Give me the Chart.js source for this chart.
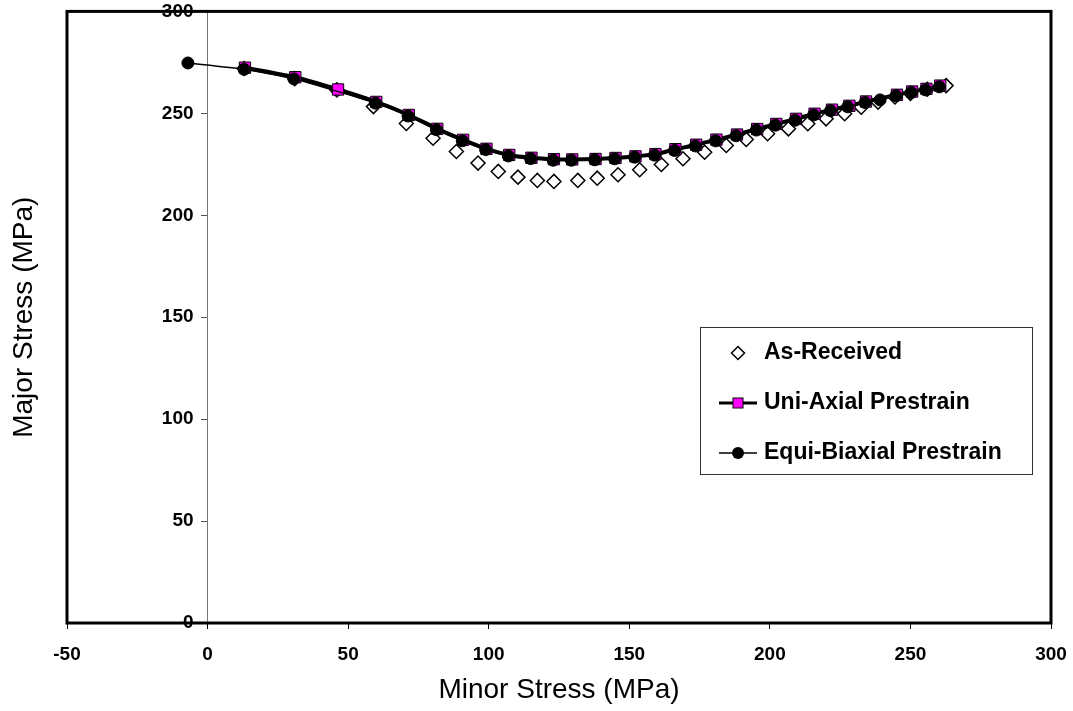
<!DOCTYPE html>
<html>
<head>
<meta charset="utf-8">
<script src="https://cdn.jsdelivr.net/npm/chart.js@4/dist/chart.umd.min.js"></script>
<style>
  html, body { margin: 0; padding: 0; background: #fff; }
  #wrap { width: 1073px; height: 711px; }
</style>
</head>
<body>
<div id="wrap"><canvas id="c" width="1073" height="711"></canvas></div>
<script>
// ---- data ----
const seriesNames = ['As-Received', 'Uni-Axial Prestrain', 'Equi-Biaxial Prestrain'];

const asReceivedX = [13, 31, 46, 59, 70.7, 80.2, 88.5, 96.2, 103.4, 110.4, 117.3, 123.2, 131.7, 138.6, 146, 153.7, 161.4, 169.1, 176.8, 184.5, 191.6, 199.2, 206.6, 213.5, 220, 226.6, 232.5, 238.5, 244.5, 250, 256, 262.7];
const asReceivedY = [272, 267, 261.5, 253.3, 245, 237.8, 231.3, 225.6, 221.5, 218.7, 217.1, 216.6, 217.1, 218.2, 219.9, 222.3, 224.9, 227.7, 230.9, 234.2, 237.2, 240, 242.4, 244.9, 247.3, 249.8, 253, 255.5, 258, 259.8, 261.8, 263.6];

const uniX = [13.3, 31.2, 46.4, 60, 71.6, 81.7, 90.9, 99.2, 107.3, 115.2, 123.2, 129.7, 138, 145.1, 152.2, 159.3, 166.4, 173.8, 181, 188.3, 195.5, 202.3, 209.3, 215.9, 222.1, 228.3, 234.2, 245.2, 250.6, 255.7, 260.6];
const uniY = [272.4, 267.7, 261.7, 255.6, 249.2, 242.4, 237, 232.6, 229.6, 228.2, 227.5, 227.4, 227.6, 228.1, 228.9, 230, 232.4, 234.6, 237.1, 239.6, 242.3, 244.8, 247.3, 249.8, 251.8, 253.7, 255.8, 259.1, 260.7, 262, 263.6];

const equiX = [-7, 13, 30.7, 59.7, 71.3, 81.4, 90.6, 98.9, 107, 114.9, 122.9, 129.4, 137.7, 144.8, 151.9, 159, 166.1, 173.5, 180.7, 188, 195.2, 202, 209, 215.6, 221.6, 227.7, 233.9, 239.2, 244.9, 250.3, 255.4, 260.3];
const equiY = [274.7, 271.6, 266.9, 255, 248.7, 242, 236.5, 232.2, 229.1, 227.8, 227, 227, 227.2, 227.7, 228.5, 229.5, 231.8, 234, 236.5, 239, 241.8, 244.2, 246.6, 249.2, 251.3, 253.2, 255.3, 256.6, 258.6, 260.2, 261.5, 263];

const xTickValues = [-50, 0, 50, 100, 150, 200, 250, 300];
const yTickValues = [0, 50, 100, 150, 200, 250, 300];
const xTitle = 'Minor Stress (MPa)';
const yTitle = 'Major Stress (MPa)';

// ---- helpers ----
const toPts = (xs, ys) => xs.map((x, i) => ({ x: x, y: ys[i] }));
const FONT = '"Liberation Sans", Arial, sans-serif';
const MAGENTA = '#FF00FF';

function makeIcon(kind) {
  const c = document.createElement('canvas');
  c.width = 38; c.height = 16;
  const g = c.getContext('2d');
  const cx = 19, cy = 8;
  if (kind === 'diamond') {
    g.beginPath();
    g.moveTo(cx, cy - 6.5); g.lineTo(cx + 6.5, cy); g.lineTo(cx, cy + 6.5); g.lineTo(cx - 6.5, cy); g.closePath();
    g.fillStyle = '#fff'; g.fill();
    g.lineWidth = 1.5; g.strokeStyle = '#000'; g.stroke();
  } else if (kind === 'square') {
    g.beginPath(); g.moveTo(0, cy); g.lineTo(38, cy);
    g.lineWidth = 3; g.strokeStyle = '#000'; g.stroke();
    g.fillStyle = MAGENTA; g.fillRect(cx - 5, cy - 5, 10, 10);
    g.lineWidth = 1; g.strokeRect(cx - 5, cy - 5, 10, 10);
  } else {
    g.beginPath(); g.moveTo(0, cy); g.lineTo(38, cy);
    g.lineWidth = 1.5; g.strokeStyle = '#000'; g.stroke();
    g.beginPath(); g.arc(cx, cy, 6, 0, Math.PI * 2);
    g.fillStyle = '#000'; g.fill();
  }
  return c;
}
const legendIcons = [makeIcon('diamond'), makeIcon('square'), makeIcon('circle')];

// legend placement (box in the plot)
const LEG_BOX = { left: 700, top: 327, right: 1032, bottom: 474 };
const LEG_PAD = 27;
const LEG_FONT = 23;
const LEG_BOXW = 29;
const Y_LABEL_GAP = 14;
const X_LABEL_DROP = 9;

const framePlugin = {
  id: 'frame',
  afterLayout(chart) {
    const lg = chart.legend;
    if (!lg) return;
    const textStart = LEG_BOX.left + 64;
    const firstCenter = LEG_BOX.top + 26;
    lg.left = textStart - LEG_FONT / 2 - LEG_BOXW - LEG_PAD;
    lg.top = firstCenter - LEG_FONT / 2 - LEG_PAD;
    lg.right = LEG_BOX.right;
    lg.bottom = lg.top + 400;
    lg.width = lg.right - lg.left;
    lg.height = 400;
  },
  beforeDraw(chart) {
    // y tick labels sit left of the tick marks of the axis drawn at x = 0
    const yItems = chart.scales.y.getLabelItems(chart.chartArea);
    if (!yItems._shifted) {
      yItems.forEach(it => { it.options.translation[0] -= Y_LABEL_GAP; });
      yItems._shifted = true;
    }
    const xItems = chart.scales.x.getLabelItems(chart.chartArea);
    if (!xItems._shifted) {
      xItems.forEach(it => { it.options.translation[1] += X_LABEL_DROP; });
      xItems._shifted = true;
    }
  },
  afterDraw(chart) {
    const ctx = chart.ctx;
    const a = chart.chartArea;
    ctx.save();
    ctx.strokeStyle = '#000';
    ctx.lineWidth = 3;
    ctx.strokeRect(a.left, a.top, a.right - a.left, a.bottom - a.top);
    ctx.lineWidth = 1;
    ctx.strokeStyle = '#333';
    ctx.strokeRect(LEG_BOX.left + 0.5, LEG_BOX.top + 0.5, LEG_BOX.right - LEG_BOX.left, LEG_BOX.bottom - LEG_BOX.top);
    ctx.restore();
  }
};

new Chart(document.getElementById('c'), {
  type: 'scatter',
  data: {
    datasets: [
      {
        label: seriesNames[0],
        data: toPts(asReceivedX, asReceivedY),
        showLine: false,
        pointStyle: 'rectRot',
        pointRadius: 7,
        pointBackgroundColor: '#fff',
        pointBorderColor: '#000',
        pointBorderWidth: 1.5,
        order: 2
      },
      {
        label: seriesNames[1],
        data: toPts(uniX, uniY),
        showLine: true,
        tension: 0.2,
        borderColor: '#000',
        borderWidth: 4,
        pointStyle: 'rect',
        pointRadius: 8,
        pointBackgroundColor: MAGENTA,
        pointBorderColor: '#000',
        pointBorderWidth: 1,
        order: 1
      },
      {
        label: seriesNames[2],
        data: toPts(equiX, equiY),
        showLine: true,
        tension: 0.2,
        borderColor: '#000',
        borderWidth: 1.5,
        pointStyle: 'circle',
        pointRadius: 6,
        pointBackgroundColor: '#000',
        pointBorderColor: '#000',
        pointBorderWidth: 1,
        order: 0
      }
    ]
  },
  options: {
    responsive: false,
    animation: false,
    devicePixelRatio: 1,
    layout: { padding: { top: 11, right: 22, left: 0, bottom: 0 } },
    plugins: {
      tooltip: { enabled: false },
      legend: {
        position: 'chartArea',
        align: 'start',
        labels: {
          usePointStyle: true,
          pointStyleWidth: LEG_BOXW,
          padding: LEG_PAD,
          color: '#000',
          font: { family: FONT, size: LEG_FONT, weight: 'bold' },
          generateLabels: (chart) => chart.data.datasets.map((ds, i) => ({
            text: ds.label,
            pointStyle: legendIcons[i],
            datasetIndex: i,
            hidden: false,
            lineWidth: 0,
            fillStyle: 'rgba(0,0,0,0)',
            strokeStyle: 'rgba(0,0,0,0)',
            fontColor: '#000'
          })),
          sort: (a, b) => a.datasetIndex - b.datasetIndex
        }
      }
    },
    scales: {
      x: {
        type: 'linear',
        position: 'bottom',
        min: -50, max: 300,
        afterBuildTicks: (s) => { s.ticks = xTickValues.map(v => ({ value: v })); },
        afterFit: (s) => { s.height = 88; },
        grid: { display: true, drawOnChartArea: false, drawTicks: true, tickLength: 6, color: '#000', lineWidth: 1 },
        border: { display: false },
        ticks: { color: '#000', padding: 5, maxRotation: 0, font: { family: FONT, size: 19, weight: 'bold' } },
        title: { display: true, text: xTitle, color: '#000', padding: { top: 0, bottom: 4 }, font: { family: FONT, size: 28 } }
      },
      y: {
        type: 'linear',
        axis: 'y',
        position: { x: 0 },
        min: 0, max: 300,
        afterBuildTicks: (s) => { s.ticks = yTickValues.map(v => ({ value: v })); },
        grid: { display: true, drawOnChartArea: false, drawTicks: true, tickLength: 6, color: '#555', lineWidth: 1 },
        border: { display: true, color: '#777', width: 1 },
        ticks: { color: '#000', padding: 0, font: { family: FONT, size: 19, weight: 'bold' } },
        title: { display: false }
      },
      yTitle: {
        type: 'linear',
        axis: 'y',
        position: 'left',
        min: 0, max: 300,
        afterFit: (s) => { s.width = 67; },
        grid: { display: false },
        border: { display: false },
        ticks: { display: false },
        title: { display: true, text: yTitle, color: '#000', padding: { top: 7, bottom: 0 }, font: { family: FONT, size: 28 } }
      }
    }
  },
  plugins: [framePlugin]
});
</script>
</body>
</html>
